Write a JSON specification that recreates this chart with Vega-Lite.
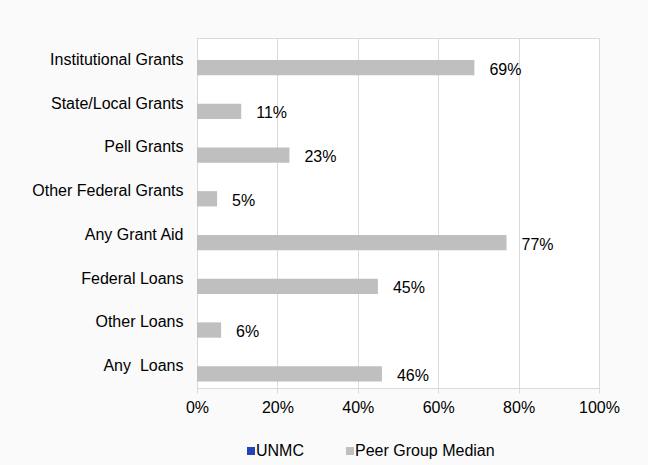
{
  "$schema": "https://vega.github.io/schema/vega-lite/v6.json",
  "width": 402,
  "height": 350,
  "autosize": {"type": "none"},
  "padding": {"left": 197, "top": 38, "right": 49, "bottom": 77},
  "background": "#fafafa",
  "title": {"text": "by Type", "fontSize": 16, "fontWeight": "bold", "font": "Liberation Sans", "anchor": "middle", "baseline": "alphabetic", "offset": 37, "dx": -76, "color": "black"},
  "config": {
    "font": "Liberation Sans",
    "view": {"fill": "white", "stroke": "#d9d9d9"}
  },
  "data": {
    "values": [
      {"category": "Institutional Grants", "series": "UNMC", "value": null},
      {"category": "Institutional Grants", "series": "Peer Group Median", "value": 0.69},
      {"category": "State/Local Grants", "series": "UNMC", "value": null},
      {"category": "State/Local Grants", "series": "Peer Group Median", "value": 0.11},
      {"category": "Pell Grants", "series": "UNMC", "value": null},
      {"category": "Pell Grants", "series": "Peer Group Median", "value": 0.23},
      {"category": "Other Federal Grants", "series": "UNMC", "value": null},
      {"category": "Other Federal Grants", "series": "Peer Group Median", "value": 0.05},
      {"category": "Any Grant Aid", "series": "UNMC", "value": null},
      {"category": "Any Grant Aid", "series": "Peer Group Median", "value": 0.77},
      {"category": "Federal Loans", "series": "UNMC", "value": null},
      {"category": "Federal Loans", "series": "Peer Group Median", "value": 0.45},
      {"category": "Other Loans", "series": "UNMC", "value": null},
      {"category": "Other Loans", "series": "Peer Group Median", "value": 0.06},
      {"category": "Any \u00a0Loans", "series": "UNMC", "value": null},
      {"category": "Any \u00a0Loans", "series": "Peer Group Median", "value": 0.46}
    ]
  },
  "encoding": {
    "y": {
      "field": "category",
      "type": "nominal",
      "sort": ["Institutional Grants", "State/Local Grants", "Pell Grants", "Other Federal Grants", "Any Grant Aid", "Federal Loans", "Other Loans", "Any \u00a0Loans"],
      "scale": {"paddingInner": 0.3, "paddingOuter": 0.15},
      "axis": {"title": null, "domain": false, "ticks": false, "labelPadding": 14, "labelFontSize": 16, "labelColor": "black", "labelFont": "Liberation Sans"}
    },
    "yOffset": {
      "field": "series",
      "type": "nominal",
      "sort": ["UNMC", "Peer Group Median"],
      "scale": {"domain": ["UNMC", "Peer Group Median"], "paddingInner": 0, "paddingOuter": 0}
    },
    "x": {
      "field": "value",
      "type": "quantitative",
      "scale": {"domain": [0, 1], "nice": false},
      "axis": {"title": null, "format": ".0%", "values": [0, 0.2, 0.4, 0.6, 0.8, 1], "labelFlush": false, "grid": true, "gridColor": "#d9d9d9", "domainColor": "#d9d9d9", "tickColor": "#d9d9d9", "tickSize": 5, "labelFontSize": 16, "labelColor": "black", "labelPadding": 6, "labelFont": "Liberation Sans"}
    }
  },
  "layer": [
    {
      "mark": {"type": "bar"},
      "encoding": {
        "color": {
          "field": "series",
          "type": "nominal",
          "scale": {"domain": ["UNMC", "Peer Group Median"], "range": ["#1F45B9", "#BFBFBF"]},
          "legend": {"orient": "none", "legendX": 46, "legendY": 405, "direction": "horizontal", "title": null, "symbolType": "square", "symbolSize": 64, "symbolStrokeWidth": 0, "labelFontSize": 16, "labelOffset": -3, "columnPadding": 38, "padding": 0, "labelFont": "Liberation Sans", "labelColor": "black"}
        }
      }
    },
    {
      "transform": [{"filter": "datum.series === 'Peer Group Median'"}],
      "mark": {"type": "text", "align": "left", "baseline": "middle", "dx": 15, "dy": 2, "fontSize": 16, "color": "black", "font": "Liberation Sans"},
      "encoding": {
        "text": {"field": "value", "type": "quantitative", "format": ".0%"}
      }
    }
  ]
}
